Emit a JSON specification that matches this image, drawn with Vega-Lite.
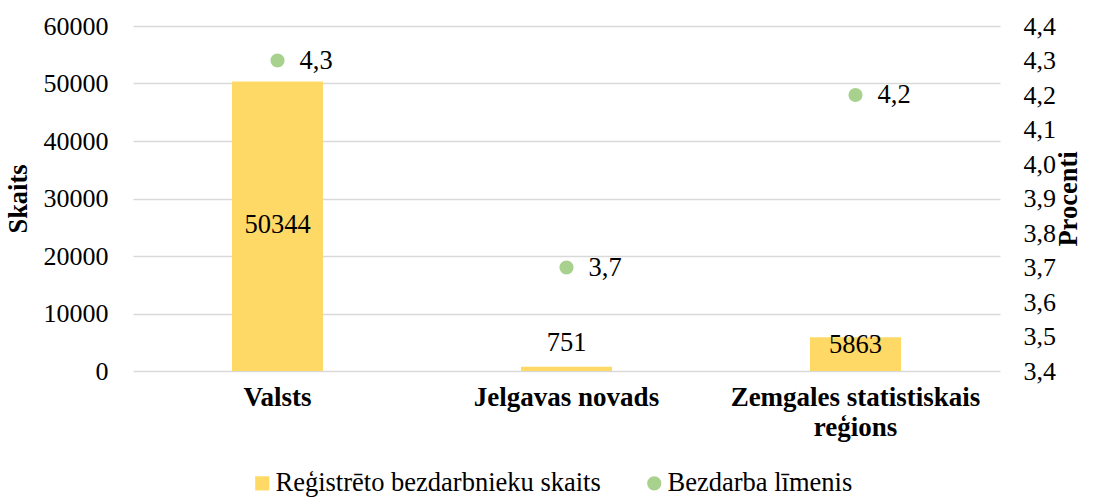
{
  "$schema": "https://vega.github.io/schema/vega-lite/v6.json",
  "width": 867,
  "height": 345,
  "autosize": "none",
  "padding": {"left": 133, "top": 26, "right": 94, "bottom": 126},
  "background": "white",
  "config": {
    "locale": {"number": {"decimal": ",", "thousands": "", "grouping": [3], "currency": ["", ""]}},
    "font": "Liberation Serif",
    "view": {"stroke": null},
    "axis": {"labelFont": "Liberation Serif", "titleFont": "Liberation Serif", "labelColor": "#000000", "titleColor": "#000000", "labelFontSize": 26, "titleFontSize": 26.5, "labelLimit": 0},
    "legend": {"labelFont": "Liberation Serif", "labelFontSize": 26.5, "labelColor": "#000000", "labelLimit": 0, "padding": 0}
  },
  "data": {
    "values": [
      {"region": "Valsts", "skaits": 50344, "limenis": 4.3},
      {"region": "Jelgavas novads", "skaits": 751, "limenis": 3.7},
      {"region": "Zemgales statistiskais reģions", "skaits": 5863, "limenis": 4.2}
    ]
  },
  "encoding": {
    "x": {
      "field": "region", "type": "nominal", "sort": null,
      "scale": {"paddingInner": 0.685, "paddingOuter": 0.3425},
      "axis": {
        "title": null, "labelAngle": 0, "domain": false, "ticks": false, "grid": false,
        "labelFontWeight": "bold", "labelFontSize": 27, "labelPadding": 13, "labelLineHeight": 30, "labelLimit": 0,
        "labelExpr": "datum.label == 'Zemgales statistiskais reģions' ? ['Zemgales statistiskais', 'reģions'] : datum.label"
      }
    }
  },
  "layer": [
    {
      "encoding": {
        "y": {
          "field": "skaits", "type": "quantitative",
          "scale": {"domain": [0, 60000], "nice": false},
          "axis": {
            "title": "Skaits", "titleFontWeight": "bold", "values": [0, 10000, 20000, 30000, 40000, 50000, 60000],
            "format": "d", "domain": false, "ticks": false, "labelPadding": 25,
            "grid": true, "gridColor": "#D9D9D9", "gridWidth": 1.5, "titlePadding": 11
          }
        }
      },
      "layer": [
        {
          "mark": {"type": "bar"},
          "encoding": {
            "color": {
              "datum": "Reģistrēto bezdarbnieku skaits",
              "scale": {"domain": ["Reģistrēto bezdarbnieku skaits", "Bezdarba līmenis"], "range": ["#FFD966", "#A9D18E"]},
              "legend": {
                "title": null, "orient": "none", "direction": "horizontal", "legendX": 116, "legendY": 444,
                "symbolSize": 200, "columnPadding": 40, "labelOffset": 0, "symbolStrokeWidth": 0, "labelLimit": 0,
                "encode": {"symbols": {"update": {"shape": {"signal": "datum.value === 'Bezdarba līmenis' ? 'circle' : 'square'"}}}}
              }
            }
          }
        },
        {
          "transform": [{"filter": "datum.region == 'Valsts'"}],
          "mark": {"type": "text", "fontSize": 26.5, "baseline": "middle", "dy": 143, "color": "#000000"},
          "encoding": {"text": {"field": "skaits", "type": "quantitative", "format": "d"}}
        },
        {
          "transform": [{"filter": "datum.region == 'Jelgavas novads'"}],
          "mark": {"type": "text", "fontSize": 26.5, "baseline": "middle", "dy": -24, "color": "#000000"},
          "encoding": {"text": {"field": "skaits", "type": "quantitative", "format": "d"}}
        },
        {
          "transform": [{"filter": "datum.region == 'Zemgales statistiskais reģions'"}],
          "mark": {"type": "text", "fontSize": 26.5, "baseline": "middle", "dy": 8, "color": "#000000"},
          "encoding": {"text": {"field": "skaits", "type": "quantitative", "format": "d"}}
        }
      ]
    },
    {
      "encoding": {
        "y": {
          "field": "limenis", "type": "quantitative",
          "scale": {"domain": [3.4, 4.4], "nice": false, "zero": false},
          "axis": {
            "orient": "right", "title": "Procenti", "titleFontWeight": "bold", "titleAngle": 270, "titleBaseline": "top",
            "values": [3.4, 3.5, 3.6, 3.7, 3.8, 3.9, 4.0, 4.1, 4.2, 4.3, 4.4],
            "format": ".1f", "domain": false, "ticks": false, "grid": false, "labelPadding": 23, "titlePadding": 0
          }
        }
      },
      "layer": [
        {
          "mark": {"type": "point", "filled": true, "opacity": 1, "size": 200, "shape": "circle"},
          "encoding": {"color": {"datum": "Bezdarba līmenis"}}
        },
        {
          "mark": {"type": "text", "fontSize": 26.5, "align": "left", "baseline": "middle", "dx": 22, "color": "#000000"},
          "encoding": {"text": {"field": "limenis", "type": "quantitative", "format": ".1f"}}
        }
      ]
    }
  ],
  "resolve": {"scale": {"y": "independent"}}
}
